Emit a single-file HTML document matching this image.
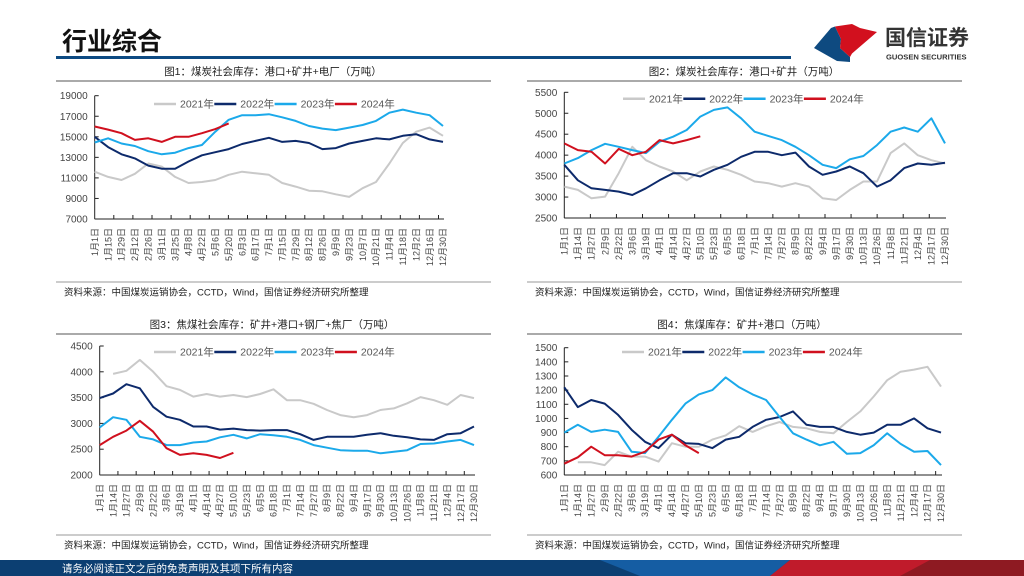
<!DOCTYPE html>
<html><head><meta charset="utf-8">
<style>
html,body{margin:0;padding:0;background:#fff;}
svg{display:block;font-family:"Liberation Sans","Noto Sans CJK SC",sans-serif;}
</style></head>
<body>
<svg id="page" width="1024" height="576" viewBox="0 0 1024 576" xmlns="http://www.w3.org/2000/svg">
  <text x="62" y="50" font-size="25" font-weight="bold" fill="#111">行业综合</text>
  <rect x="56" y="56" width="735" height="3" fill="#0d4a82"/>
  <g>
    <polygon points="814,48 831,28 835,26.5 841,39 840,48 850,57 850,62 837,61" fill="#0e4a80"/>
    <polygon points="835,26.5 852,24 860,28 877,32 852,53.5 850,57 840,48 841,39" fill="#d2101e"/>
    <text x="885" y="45" font-size="21" font-weight="bold" fill="#333">国信证券</text>
    <text x="886" y="59.5" font-size="7.6" font-weight="bold" fill="#333">GUOSEN SECURITIES</text>
  </g>
  <g>
    <rect x="0" y="560" width="1024" height="16" fill="#0c3f72"/>
    <polygon points="600,560 790,560 770,576 640,576" fill="#155da3"/>
    <polygon points="790,560 1024,560 1024,576 770,576" fill="#c01b2b"/>
    <polygon points="930,560 1024,560 1024,576 900,576" fill="#8e1a22"/>
    <text x="62" y="572" font-size="10.5" fill="#fff">请务必阅读正文之后的免责声明及其项下所有内容</text>
  </g>
  <g id="charts"></g>
</svg>
<script>
const ch1Categories = ["1月1日","1月15日","1月29日","2月12日","2月26日","3月11日","3月25日","4月8日","4月22日","5月6日","5月20日","6月3日","6月17日","7月1日","7月15日","7月29日","8月12日","8月26日","9月9日","9月23日","10月7日","10月21日","11月4日","11月18日","12月2日","12月16日","12月30日"];
const ch1Y2021 = [11600,11100,10800,11400,12400,12100,11100,10500,10600,10800,11300,11600,11450,11300,10500,10150,9750,9700,9400,9150,10000,10600,12400,14400,15500,15900,15100];
const ch1Y2022 = [15000,14000,13300,12900,12200,11900,11900,12600,13200,13500,13800,14300,14600,14900,14500,14600,14400,13800,13900,14350,14600,14850,14750,15100,15250,14750,14500];
const ch1Y2023 = [14450,14850,14350,14100,13600,13300,13450,13900,14200,15500,16650,17100,17100,17200,16900,16550,16050,15800,15650,15900,16150,16550,17350,17650,17350,17100,16050];
const ch1Y2024 = [16000,15700,15350,14700,14850,14500,15000,15000,15350,15750,16300];
const ch1Ticks = [7000,9000,11000,13000,15000,17000,19000];

const chCategories13 = ["1月1日","1月14日","1月27日","2月9日","2月22日","3月6日","3月19日","4月1日","4月14日","4月27日","5月10日","5月23日","6月5日","6月18日","7月1日","7月14日","7月27日","8月9日","8月22日","9月4日","9月17日","9月30日","10月13日","10月26日","11月8日","11月21日","12月4日","12月17日","12月30日"];

const ch2Y2021 = [3250,3170,2970,3010,3570,4200,3880,3730,3610,3400,3610,3730,3650,3530,3370,3330,3250,3330,3250,2970,2930,3170,3370,3370,4050,4280,4000,3880,3800];
const ch2Y2022 = [3770,3400,3210,3170,3130,3050,3210,3400,3570,3570,3490,3650,3770,3960,4080,4080,4000,4060,3730,3530,3610,3730,3570,3250,3400,3690,3800,3770,3820];
const ch2Y2023 = [3800,3930,4120,4270,4200,4120,4050,4320,4440,4600,4920,5080,5140,4880,4560,4460,4360,4200,4000,3770,3690,3900,3980,4240,4560,4660,4560,4880,4280];
const ch2Y2024 = [4280,4120,4080,3800,4150,4000,4080,4360,4280,4360,4450];
const ch2Ticks = [2500,3000,3500,4000,4500,5000,5500];

const ch3Y2021 = [null,3960,4020,4230,4000,3720,3650,3520,3570,3520,3550,3510,3570,3660,3450,3450,3380,3260,3160,3120,3160,3260,3290,3390,3510,3450,3360,3550,3490];
const ch3Y2022 = [3490,3580,3760,3680,3320,3130,3070,2940,2940,2880,2900,2870,2860,2870,2870,2790,2680,2740,2740,2740,2780,2810,2760,2730,2690,2680,2790,2810,2940];
const ch3Y2023 = [2920,3120,3070,2740,2690,2580,2580,2630,2650,2730,2780,2710,2790,2770,2740,2680,2580,2530,2480,2470,2470,2420,2450,2480,2600,2610,2650,2680,2580];
const ch3Y2024 = [2580,2740,2860,3050,2840,2520,2390,2420,2390,2330,2430];
const ch3Ticks = [2000,2500,3000,3500,4000,4500];

const ch4Y2021 = [null,690,690,670,765,730,730,695,825,800,800,850,880,945,905,945,975,940,930,905,895,975,1050,1155,1270,1330,1345,1365,1225];
const ch4Y2022 = [1220,1080,1130,1105,1025,920,835,790,885,825,820,790,850,870,940,990,1010,1050,955,940,940,905,885,900,955,955,1000,930,900];
const ch4Y2023 = [900,955,905,920,905,765,755,870,990,1105,1170,1200,1290,1220,1170,1130,1010,895,850,810,835,750,755,810,895,820,765,770,670];
const ch4Y2024 = [680,725,800,740,740,730,765,850,885,810,755];
const ch4Ticks = [600,700,800,900,1000,1100,1200,1300,1400,1500];

const legendNames = ["2021年","2022年","2023年","2024年"];
const seriesColors = ["#c9c9c9","#0d2a6b","#1ba9ea","#d0101e"];

const NS = "http://www.w3.org/2000/svg";
function mk(parent, tag, attrs){
  const e = document.createElementNS(NS, tag);
  for (const k in attrs) e.setAttribute(k, attrs[k]);
  parent.appendChild(e);
  return e;
}
const root = document.getElementById("charts");

function drawChart(cfg, cats, ticks, series){
  const g = mk(root, "g", {});
  
  
  const tmin = ticks[0], tmax = ticks[ticks.length-1];
  const yS = v => cfg.yBot - (v - tmin) / (tmax - tmin) * (cfg.yBot - cfg.yTop);
  const xS = i => cfg.x0 + i * (cfg.x1 - cfg.x0) / (cats.length - 1);

  const title = mk(g, "text", {x: cfg.tx, y: cfg.ty, "font-size": 10.5, "text-anchor": "middle", fill: "#222"});
  title.textContent = cfg.title;
  
  
  const sep = mk(g, "line", {x1: cfg.px0, x2: cfg.px1, y1: cfg.sepY, y2: cfg.sepY, stroke: "#555", "stroke-width": 1});
  
  
  const sep2 = mk(g, "line", {x1: cfg.px0, x2: cfg.px1, y1: cfg.srcY, y2: cfg.srcY, stroke: "#999", "stroke-width": 1});
  
  
  const src = mk(g, "text", {x: cfg.px0 + 8, y: cfg.srcY + 13.5, "font-size": 9.5, fill: "#222"});
  src.textContent = "资料来源：中国煤炭运销协会，CCTD，Wind，国信证券经济研究所整理";
  
  

  const ya = mk(g, "line", {x1: cfg.x0, x2: cfg.x0, y1: cfg.yTop, y2: cfg.yBot, stroke: "#222", "stroke-width": 1});
  
  
  ticks.forEach(t => {
    const y = yS(t);
    const tk = mk(g, "line", {x1: cfg.x0, x2: cfg.x0 + 4, y1: y, y2: y, stroke: "#222", "stroke-width": 1});
    
    
    const lb = mk(g, "text", {x: cfg.x0 - 7, y: y + 3.5, "font-size": 10, "text-anchor": "end", fill: "#444"});
    lb.textContent = t;
    
    
  });
  const xa = mk(g, "line", {x1: cfg.x0, x2: cfg.x1 + 1, y1: cfg.yBot, y2: cfg.yBot, stroke: "#222", "stroke-width": 1});
  
  
  for (let x = cfg.x0 + cfg.tickSp; x <= cfg.x1 + 1; x += cfg.tickSp) {
    const tk = mk(g, "line", {x1: x, x2: x, y1: cfg.yBot, y2: cfg.yBot - 4, stroke: "#222", "stroke-width": 1});
    
    
  }
  cats.forEach((c, i) => {
    const x = xS(i), y = cfg.yBot + 9;
    const lb = mk(g, "text", {x: x, y: y, "font-size": 9, "text-anchor": "end", fill: "#444", transform: `rotate(-90 ${x} ${y}) translate(0 3.2)`});
    lb.textContent = c;
    
    
  });
  series.forEach((vals, s) => {
    let d = "", pen = false;
    vals.forEach((v, i) => {
      if (v === null) { pen = false; return; }
      d += (pen ? "L" : "M") + xS(i).toFixed(1) + "," + yS(v).toFixed(1);
      pen = true;
    });
    const p = mk(g, "path", {d: d, fill: "none", stroke: seriesColors[s], "stroke-width": 2, "stroke-linejoin": "round"});
    
    
  });
  legendNames.forEach((n, s) => {
    const lx = cfg.lx + s * 60.3;
    const ln = mk(g, "line", {x1: lx, x2: lx + 22, y1: cfg.ly, y2: cfg.ly, stroke: seriesColors[s], "stroke-width": 2.5});
    
    
    const lt = mk(g, "text", {x: lx + 26, y: cfg.ly + 3.7, "font-size": 10.5, fill: "#555"});
    lt.textContent = n;
    
    
  });
}

drawChart({name: "chart-coal-inventory-total", title: "图1：煤炭社会库存：港口+矿井+电厂（万吨）", tx: 273, ty: 75, px0: 56, px1: 491, sepY: 81, srcY: 282,
  x0: 94.7, x1: 443, yTop: 95.7, yBot: 219, tickSp: 19.1, lx: 154, ly: 104},
  ch1Categories, ch1Ticks, [ch1Y2021, ch1Y2022, ch1Y2023, ch1Y2024]);
drawChart({name: "chart-coal-inventory-port-mine", title: "图2：煤炭社会库存：港口+矿井（万吨）", tx: 744, ty: 75, px0: 527, px1: 962, sepY: 81, srcY: 282,
  x0: 564.3, x1: 945, yTop: 92.3, yBot: 218, tickSp: 26.07, lx: 623, ly: 98.7},
  chCategories13, ch2Ticks, [ch2Y2021, ch2Y2022, ch2Y2023, ch2Y2024]);
drawChart({name: "chart-coking-coal-social", title: "图3：焦煤社会库存：矿井+港口+钢厂+焦厂（万吨）", tx: 272, ty: 328, px0: 56, px1: 491, sepY: 334, srcY: 535,
  x0: 99.7, x1: 474, yTop: 346, yBot: 475, tickSp: 18.23, lx: 154, ly: 352},
  chCategories13, ch3Ticks, [ch3Y2021, ch3Y2022, ch3Y2023, ch3Y2024]);
drawChart({name: "chart-coking-coal-port-mine", title: "图4：焦煤库存：矿井+港口（万吨）", tx: 742, ty: 328, px0: 527, px1: 962, sepY: 334, srcY: 535,
  x0: 564.3, x1: 941, yTop: 347.7, yBot: 475, tickSp: 20.63, lx: 622, ly: 352},
  chCategories13, ch4Ticks, [ch4Y2021, ch4Y2022, ch4Y2023, ch4Y2024]);
</script>
</body></html>
